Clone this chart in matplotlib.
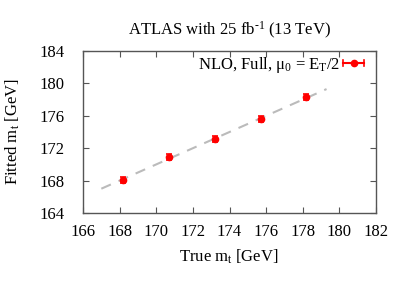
import matplotlib
matplotlib.use("Agg")
import matplotlib.pyplot as plt
from matplotlib.legend_handler import HandlerBase
from matplotlib.lines import Line2D

true_mt = [168.2, 170.7, 173.2, 175.7, 178.2]
fitted_mt = [168.05, 170.95, 173.1, 175.6, 178.3]
fitted_err = [0.35, 0.35, 0.35, 0.35, 0.4]
diag_x = [167.0, 179.3]
x_ticks = [166, 168, 170, 172, 174, 176, 178, 180, 182]
y_ticks = [164, 168, 172, 176, 180, 184]

plt.rcParams['font.family'] = ['Liberation Serif', 'DejaVu Serif']
plt.rcParams['mathtext.fontset'] = 'custom'
plt.rcParams['mathtext.rm'] = 'Liberation Serif'
plt.rcParams['mathtext.it'] = 'Liberation Serif:italic'

FS = 12
RED = '#ff0000'


class HErrHandler(HandlerBase):
    def create_artists(self, legend, orig_handle, xdescent, ydescent,
                       width, height, fontsize, trans):
        y = height / 2 - ydescent
        x0, x1 = -xdescent, width - xdescent
        xm = (x0 + x1) / 2
        c = 2.2
        arts = [
            Line2D([x0, x1], [y, y], color=RED, lw=1.5),
            Line2D([x0, x0], [y - c, y + c], color=RED, lw=1.2),
            Line2D([x1, x1], [y - c, y + c], color=RED, lw=1.2),
            Line2D([xm], [y], marker='o', ms=4.5, color=RED, lw=0),
        ]
        for a in arts:
            a.set_transform(trans)
        return arts


fig = plt.figure(figsize=(4.07, 2.85), dpi=100)
ax = fig.add_axes([83/407, 1-213/285, (376-83)/407, (213-51)/285])

ax.plot(diag_x, diag_x, linestyle=(0, (5, 4)), color='#bbbbbb', lw=1.5, zorder=1)
eb = ax.errorbar(true_mt, fitted_mt, yerr=fitted_err, fmt='o', color=RED,
                 ms=4.5, lw=1.5, capsize=2, capthick=1.2, zorder=3)

ax.set_xlim(166, 182)
ax.set_ylim(164, 184)
ax.set_xticks(x_ticks)
ax.set_yticks(y_ticks)
ax.tick_params(direction='in', top=True, right=True, length=4, width=0.8,
               color='#555555', labelsize=FS)
ax.tick_params(axis='y', pad=13)
ax.tick_params(axis='x', pad=8)
for s in ax.spines.values():
    s.set_color('#555555')
    s.set_linewidth(1.0)

fig.text(229/407, 1-257/285, r'True $\mathregular{m_t}$ [GeV]', fontsize=FS,
         ha='center', va='center')
fig.text(13/407, 1-132/285, r'Fitted $\mathregular{m_t}$ [GeV]', fontsize=FS,
         ha='center', va='center', rotation=90)
fig.text(230/407, 1-30/285, r'ATLAS with 25 fb$^{\text{-1}}$ (13 TeV)',
         fontsize=FS, ha='center', va='center')

ax.legend([eb], [r'NLO, Full, $\mathregular{\mu_0}$ = $\mathregular{E_T}$/2'],
          handler_map={type(eb): HErrHandler()},
          loc='upper right', bbox_to_anchor=(0.959, 0.978),
          frameon=False, markerfirst=False, fontsize=FS,
          handlelength=1.25, borderaxespad=0, handletextpad=0.15,
          borderpad=0)

fig.savefig('out.png', dpi=100)
